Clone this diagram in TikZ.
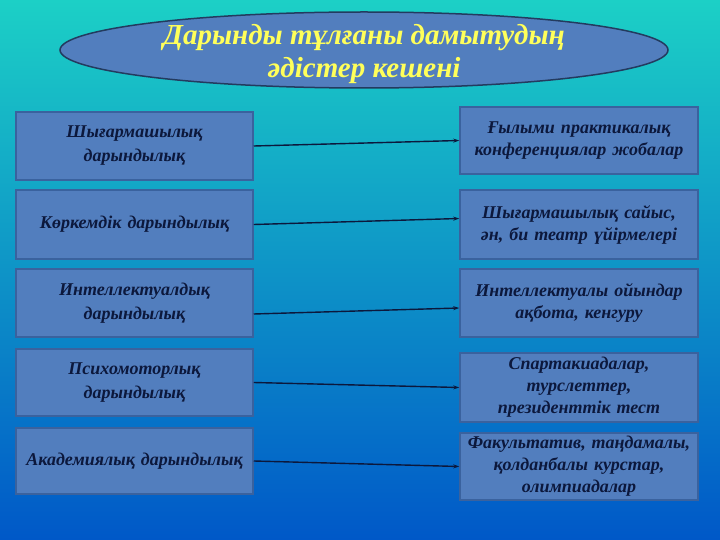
\documentclass[tikz,border=0pt]{standalone}
\usepackage{fontspec}
\setmainfont{Liberation Serif}
\usetikzlibrary{arrows.meta,shapes.geometric}

\definecolor{bgtop}{RGB}{28,208,198}
\definecolor{bgmid}{RGB}{18,168,228}
\definecolor{bgbot}{RGB}{0,88,200}
\definecolor{boxfill}{RGB}{82,126,190}
\definecolor{boxline}{RGB}{58,98,158}
\definecolor{ink}{RGB}{12,24,60}
\definecolor{headink}{RGB}{255,255,90}

\tikzset{
  box/.style={draw=boxline, line width=1.5pt, fill=boxfill, text=ink, align=center,
    inner sep=1pt, font=\fontsize{18}{22}\selectfont\bfseries\itshape},
  leftbox/.style={box, minimum width=237pt, text width=233pt,
    font=\fontsize{18}{24}\selectfont\bfseries\itshape},
  rightbox/.style={box, minimum width=238pt, text width=234pt},
  link/.style={draw=ink, line width=1.4pt, -{Stealth[length=6pt,width=4pt]}}
}

\begin{document}
\begin{tikzpicture}[x=1pt,y=-1pt]
        % background
        \shade[top color=bgtop, middle color=bgmid, bottom color=bgbot] (0,0) rectangle (720,540);
        \useasboundingbox (0,0) rectangle (720,540);

        % Title
        \node[ellipse, draw=boxline!60!black, line width=1.5pt, fill=boxfill,
              minimum width=608pt, minimum height=76pt, inner sep=0pt] (head) at (364,50) {};
        \node[text=headink, align=center, font=\fontsize{29}{33}\selectfont\bfseries\itshape] (headtext) at (364,54) {Дарынды тұлғаны дамытудың\\әдістер кешені};

        % Left column
        \node[leftbox, minimum height=68pt] (l1) at (134.5,146) {Шығармашылық\\дарындылық};
        \node[leftbox, minimum height=69pt] (l2) at (134.5,224.5) {Көркемдік дарындылық};
        \node[leftbox, minimum height=68pt] (l3) at (134.5,303) {Интеллектуалдық\\дарындылық};
        \node[leftbox, minimum height=67pt] (l4) at (134.5,382.5) {Психомоторлық\\дарындылық};
        \node[leftbox, minimum height=66pt] (l5) at (134.5,461) {Академиялық дарындылық};

        % Right column
        \node[rightbox, minimum height=67pt] (r1) at (579,140.5) {Ғылыми практикалық\\конференциялар жобалар};
        \node[rightbox, minimum height=69pt] (r2) at (579,224.5) {Шығармашылық сайыс,\\ән, би театр үйірмелері};
        \node[rightbox, minimum height=68pt] (r3) at (579,303) {Интеллектуалы ойындар\\ақбота, кенгуру};
        \node[rightbox, minimum height=69pt] (r4) at (579,387.5) {Спартакиадалар,\\турслеттер,\\президенттік тест};
        \node[rightbox, minimum height=67pt] (r5) at (579,466.5) {Факультатив, таңдамалы,\\қолданбалы курстар,\\олимпиадалар};

        % Links
        \draw[link] (l1.east) -- (r1.west);
        \draw[link] (l2.east) -- ([yshift=6pt]r2.west);
        \draw[link] ([yshift=-11pt]l3.east) -- ([yshift=-5pt]r3.west);
        \draw[link] (l4.east) -- (r4.west);
        \draw[link] (l5.east) -- (r5.west);

      \end{tikzpicture}
\end{document}
